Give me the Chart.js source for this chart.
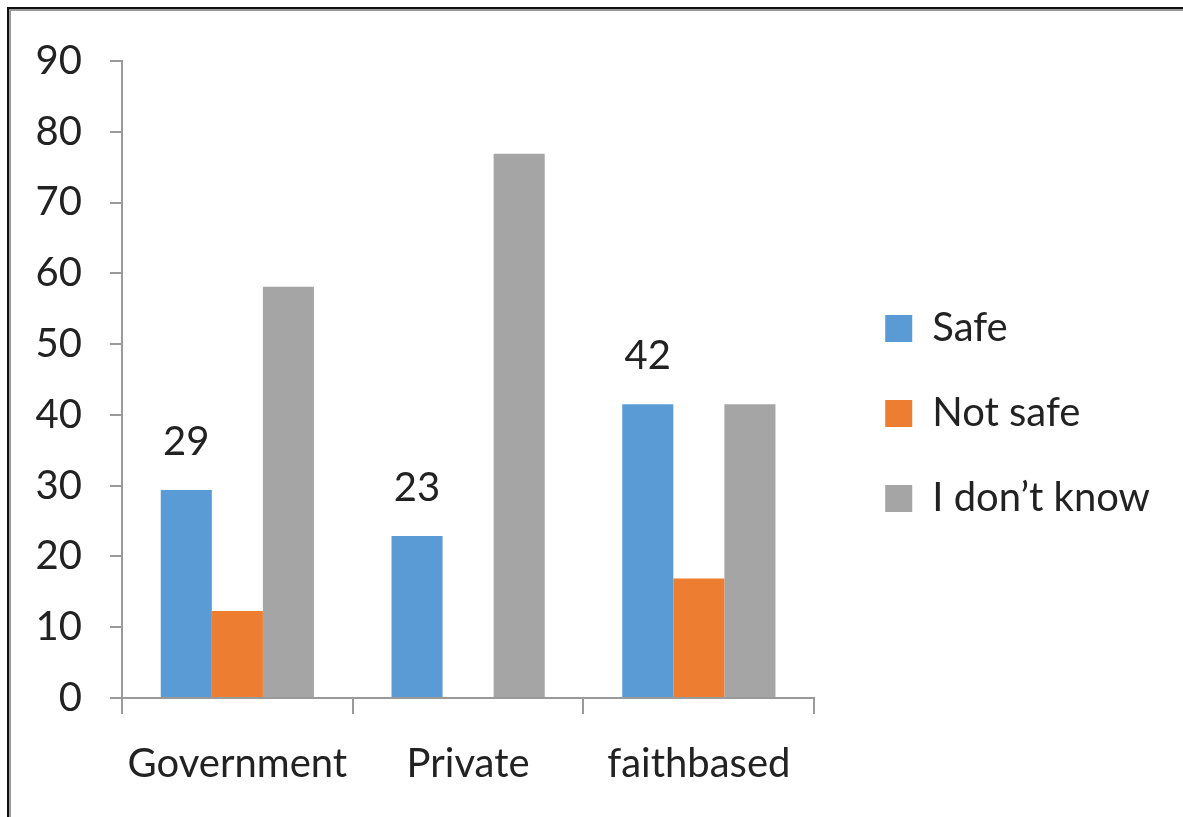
<!DOCTYPE html>
<html>
<head>
<meta charset="utf-8">
<script src="https://cdn.jsdelivr.net/npm/chart.js@4.4.1/dist/chart.umd.min.js"></script>
<style>
  html, body { margin: 0; padding: 0; background: #fff; overflow: hidden; }
  #wrap { position: absolute; left: 0; top: 0; width: 1183px; height: 817px; }
  #frame {
    position: absolute; left: 7px; top: 7px; width: 1200px; height: 840px;
    border-top: 2px solid #111; border-left: 2px solid #111;
    box-shadow: inset 2px 2px 0 #9a9a9a;
    pointer-events: none;
  }
</style>
</head>
<body>
<div id="wrap">
  <canvas id="chart" width="1183" height="817"></canvas>
  <div id="frame"></div>
</div>
<script>
const categories = ['Government', 'Private', 'faithbased'];
const seriesNames = ['Safe', 'Not safe', 'I don\u2019t know'];
const safe = [29.4, 22.9, 41.5];
const notSafe = [12.3, 0, 16.9];
const dontKnow = [58.1, 76.9, 41.5];
const yTicks = [0, 10, 20, 30, 40, 50, 60, 70, 80, 90];

const colors = ['#5B9BD5', '#ED7D31', '#A5A5A5'];
const axisColor = '#9a9a9a';
const fontFamily = 'Lato';

// value labels above the Safe bars only
const safeLabels = {
  id: 'safeLabels',
  afterDatasetsDraw(chart) {
    const ctx = chart.ctx;
    const meta = chart.getDatasetMeta(0);
    ctx.save();
    ctx.font = `40px ${fontFamily}`;
    ctx.fillStyle = '#222';
    ctx.textAlign = 'center';
    ctx.textBaseline = 'middle';
    meta.data.forEach((bar, i) => {
      ctx.fillText(Math.round(safe[i]), bar.x, bar.y - 48);
    });
    ctx.restore();
  }
};

// empty boxes used only as spacers in the layout
const spacer = (axis, position, size) => ({
  axis, position,
  grid: { display: false },
  border: { display: false },
  ticks: { display: false },
  afterFit: s => { if (axis === 'x') s.height = size; else s.width = size; }
});

document.fonts.load(`40px ${fontFamily}`).then(() => {
  Chart.defaults.font.family = fontFamily;
  Chart.defaults.color = '#222';

  new Chart(document.getElementById('chart'), {
    type: 'bar',
    data: {
      labels: categories,
      datasets: [
        { label: seriesNames[0], data: safe, backgroundColor: colors[0] },
        { label: seriesNames[1], data: notSafe, backgroundColor: colors[1] },
        { label: seriesNames[2], data: dontKnow, backgroundColor: colors[2] }
      ]
    },
    options: {
      responsive: false,
      animation: false,
      layout: { padding: { left: 10, top: 10, right: 23, bottom: 0 } },
      datasets: { bar: { categoryPercentage: 0.664, barPercentage: 1 } },
      plugins: {
        tooltip: { enabled: false },
        legend: {
          position: 'right',
          maxWidth: 420,
          labels: {
            boxWidth: 27, boxHeight: 27, padding: 45,
            font: { size: 40, family: fontFamily }, color: '#222'
          }
        }
      },
      scales: {
        x: {
          grid: { drawOnChartArea: false, tickLength: 16, color: axisColor, lineWidth: 2 },
          border: { color: axisColor, width: 2 },
          ticks: { font: { size: 40 }, padding: 26, color: '#222' },
          afterFit: s => { s.height = 119; }
        },
        y: {
          min: 0, max: 90,
          afterBuildTicks: s => { s.ticks = yTicks.map(v => ({ value: v })); },
          grid: { drawOnChartArea: false, tickLength: 12, color: axisColor, lineWidth: 2 },
          border: { color: axisColor, width: 2 },
          ticks: { font: { size: 40 }, padding: 28, color: '#222' },
          afterFit: s => { s.width = 112; }
        },
        gapTop: Object.assign({ type: 'category' }, spacer('x', 'top', 51)),
        gapRight: Object.assign({ type: 'linear' }, spacer('y', 'right', 26))
      }
    },
    plugins: [safeLabels]
  });
});
</script>
</body>
</html>
